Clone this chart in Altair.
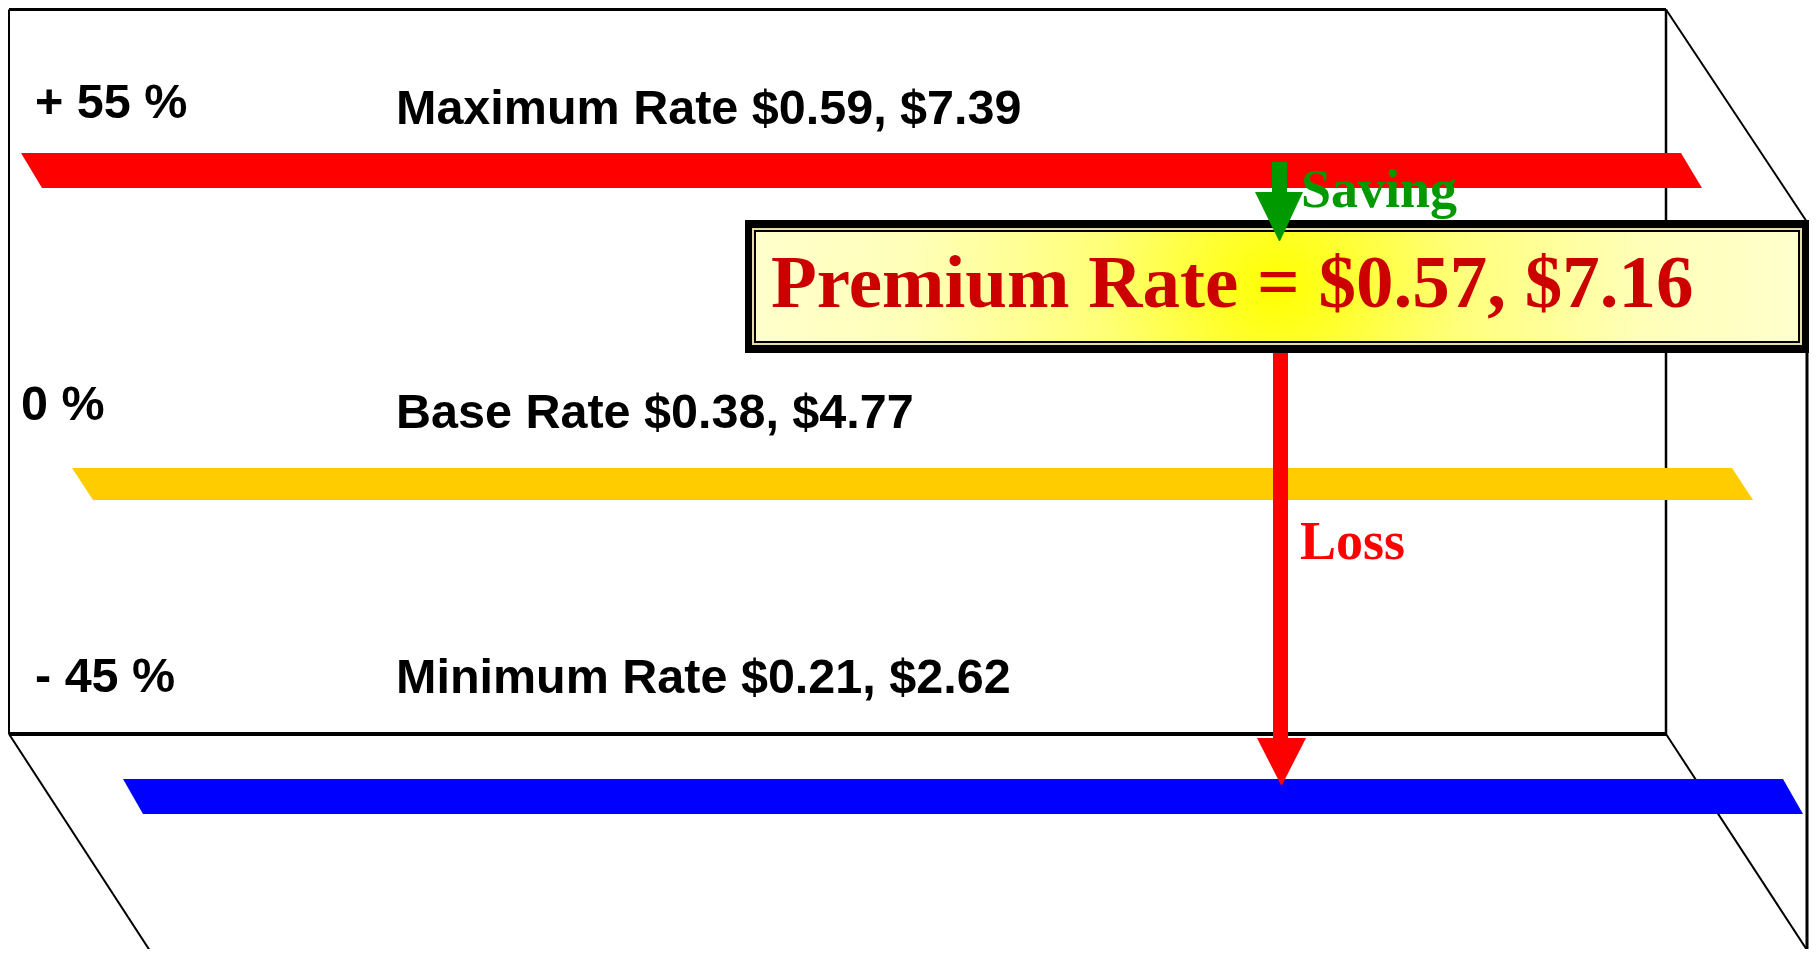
import altair as alt
import pandas as pd

# ---- chart values ----
pct_labels = ["+ 55 %", "0 %", "- 45 %"]
rate_names = ["Maximum Rate", "Base Rate", "Minimum Rate"]
rate_a = [0.59, 0.38, 0.21]
rate_b = [7.39, 4.77, 2.62]
premium_name = "Premium Rate"
premium_a = 0.57
premium_b = 7.16
saving_label = "Saving"
loss_label = "Loss"

# ---- styles ----
bar_colors = ["#FF0000", "#FFCC00", "#0000FF"]

# ---- layout (diagram units == page pixels) ----
W, H = 1801, 941
pct_x = [35, 21, 35]
pct_base = [118, 420, 692]
label_x = 396
label_base = [124, 428, 693]
bar_top = [153, 468, 779]
bar_bot = [188, 500, 814]
bar_left_top = [21, 72, 123]
bar_left_bot = [42, 93, 143]
bar_len = 1660
edge_x = 1807
back_top = 9.5
back_right = 1666

xs = alt.Scale(domain=[8, 8 + W], range=[0, W], zero=False, nice=False)
ys = alt.Scale(domain=[8, 8 + H], reverse=True, zero=False, nice=False)


def X(f="x"):
    return alt.X(f"{f}:Q", scale=xs, axis=None)


def Y(f="y"):
    return alt.Y(f"{f}:Q", scale=ys, axis=None)


# frame lines
lines = pd.DataFrame([
    dict(x=9, y=back_top, x2=back_right, y2=back_top, w=3),
    dict(x=9, y=back_top, x2=9, y2=734, w=2),
    dict(x=back_right, y=back_top, x2=back_right, y2=734, w=2.5),
    dict(x=9, y=734, x2=back_right, y2=734, w=4),
    dict(x=back_right, y=back_top, x2=edge_x, y2=222, w=2),
    dict(x=9, y=734, x2=154, y2=957, w=2),
    dict(x=back_right, y=734, x2=edge_x, y2=950, w=2),
    dict(x=edge_x, y=222, x2=edge_x, y2=957, w=3),
])
frame = alt.Chart(lines).mark_rule(color="black").encode(
    x=X(), y=Y(), x2="x2:Q", y2="y2:Q",
    strokeWidth=alt.StrokeWidth("w:Q", scale=None))

# slanted bars
rows = []
for i, name in enumerate(rate_names):
    rows.append(dict(bar=name, y=bar_top[i], x=bar_left_top[i], x2=bar_left_top[i] + bar_len))
    rows.append(dict(bar=name, y=bar_bot[i], x=bar_left_bot[i], x2=bar_left_bot[i] + bar_len))
bars = alt.Chart(pd.DataFrame(rows)).mark_area(orient="horizontal").encode(
    y=Y(), x=X(), x2="x2:Q",
    color=alt.Color("bar:N", scale=alt.Scale(domain=rate_names, range=bar_colors), legend=None))

# arrows
shafts = pd.DataFrame([
    dict(x=1273, x2=1288, y=352, y2=742, c="#FF0000"),
    dict(x=1272, x2=1287, y=162, y2=196, c="#009900"),
])
heads = pd.DataFrame([
    dict(a="loss", y=738, x=1257, x2=1306, c="#FF0000"),
    dict(a="loss", y=785, x=1281, x2=1282, c="#FF0000"),
    dict(a="save", y=192, x=1255, x2=1303, c="#009900"),
    dict(a="save", y=241, x=1279, x2=1280, c="#009900"),
])
red_shaft = alt.Chart(shafts.iloc[[0]]).mark_rect().encode(
    x=X(), x2="x2:Q", y=Y(), y2="y2:Q", color=alt.Color("c:N", scale=None))
green_shaft = alt.Chart(shafts.iloc[[1]]).mark_rect().encode(
    x=X(), x2="x2:Q", y=Y(), y2="y2:Q", color=alt.Color("c:N", scale=None))
red_head = alt.Chart(heads[heads.a == "loss"]).mark_area(orient="horizontal").encode(
    y=Y(), x=X(), x2="x2:Q", color=alt.Color("c:N", scale=None))
green_head = alt.Chart(heads[heads.a == "save"]).mark_area(orient="horizontal").encode(
    y=Y(), x=X(), x2="x2:Q", color=alt.Color("c:N", scale=None))

# premium box
box = pd.DataFrame([
    dict(x=745, x2=1809, y=220, y2=353, c="#000000"),
    dict(x=752, x2=1802, y=228, y2=345, c="#E6DDA6"),
    dict(x=754, x2=1800, y=230, y2=343, c="#000000"),
])
box_frame = alt.Chart(box).mark_rect().encode(
    x=X(), x2="x2:Q", y=Y(), y2="y2:Q", color=alt.Color("c:N", scale=None))
box_fill = alt.Chart(pd.DataFrame([dict(x=756, x2=1798, y=232, y2=341)])).mark_rect(
    fill={"gradient": "radial", "x1": 0.5, "y1": 0.5, "r1": 0,
          "x2": 0.5, "y2": 0.5, "r2": 0.5,
          "stops": [{"offset": 0, "color": "#FFFF00"},
                    {"offset": 0.35, "color": "#FFFF7A"},
                    {"offset": 0.7, "color": "#FFFFB8"},
                    {"offset": 1, "color": "#FFFFCC"}]}
).encode(x=X(), x2="x2:Q", y=Y(), y2="y2:Q")

# black sans labels
sans_rows = []
for i in range(3):
    sans_rows.append(dict(x=pct_x[i], y=pct_base[i], t=pct_labels[i]))
    sans_rows.append(dict(x=label_x, y=label_base[i],
                          t=f"{rate_names[i]} ${rate_a[i]:.2f}, ${rate_b[i]:.2f}"))
sans = alt.Chart(pd.DataFrame(sans_rows)).mark_text(
    font="Liberation Sans", fontWeight="bold", fontSize=48.5, align="left",
    baseline="alphabetic", color="black").encode(x=X(), y=Y(), text="t:N")

serif_rows = [
    dict(x=771, y=307, t=f"{premium_name} = ${premium_a:.2f}, ${premium_b:.2f}", s=75, c="#CC0000"),
    dict(x=1301, y=207, t=saving_label, s=54, c="#009900"),
    dict(x=1300, y=559, t=loss_label, s=54, c="#FF0000"),
]
serif = alt.Chart(pd.DataFrame(serif_rows)).mark_text(
    font="Liberation Serif", fontWeight="bold", align="left", baseline="alphabetic"
).encode(x=X(), y=Y(), text="t:N",
         size=alt.Size("s:Q", scale=None),
         color=alt.Color("c:N", scale=None))

chart = alt.layer(
    frame, bars, red_shaft, red_head, box_frame, box_fill, green_shaft, green_head, sans, serif
).resolve_scale(color="independent").properties(
    width=W, height=H, padding=0,
    autosize=alt.AutoSizeParams(type="none"),
    background="white",
).configure_view(stroke=None)

chart.save("out.html", embed_options={"renderer": "svg", "actions": False})
